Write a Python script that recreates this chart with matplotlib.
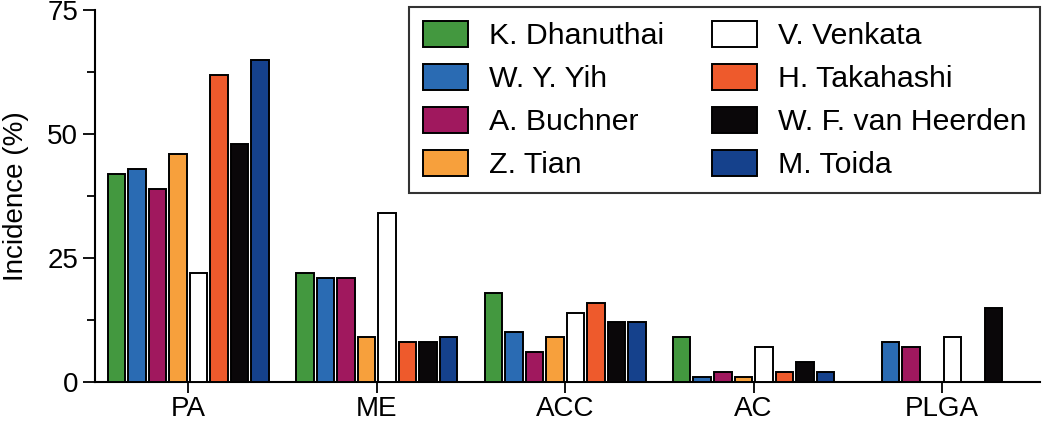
import matplotlib
matplotlib.use("Agg")
import matplotlib.pyplot as plt
import numpy as np
from matplotlib.ticker import MultipleLocator

plt.rcParams['font.family'] = ['Liberation Sans', 'DejaVu Sans']

categories = ["PA", "ME", "ACC", "AC", "PLGA"]
authors = ["K. Dhanuthai", "W. Y. Yih", "A. Buchner", "Z. Tian",
           "V. Venkata", "H. Takahashi", "W. F. van Heerden", "M. Toida"]
colors = ["#43983F", "#2A6BB3", "#A0185E", "#F7A03C",
          "#FFFFFF", "#EE5A2C", "#0A0709", "#15418C"]

k_dhanuthai = [42, 22, 18, 9, 0]
w_y_yih = [43, 21, 10, 1, 8]
a_buchner = [39, 21, 6, 2, 7]
z_tian = [46, 9, 9, 1, 0]
v_venkata = [22, 34, 14, 7, 9]
h_takahashi = [62, 8, 16, 2, 0]
w_f_van_heerden = [48, 8, 12, 4, 15]
m_toida = [65, 9, 12, 2, 0]

series = [k_dhanuthai, w_y_yih, a_buchner, z_tian,
          v_venkata, h_takahashi, w_f_van_heerden, m_toida]

fig = plt.figure(figsize=(10.5, 4.22), dpi=100)
ax = fig.add_axes([0.0905, 0.095, 0.9, 0.881])

x = np.arange(len(categories))
step = 0.109
width = 0.093
for i, (vals, name, col) in enumerate(zip(series, authors, colors)):
    offs = (i - 3.5) * step
    v = np.array(vals, dtype=float)
    mask = v > 0
    ax.bar(x[mask] + offs, v[mask], width=width, color=col,
           edgecolor="black", linewidth=1.4, label=name, zorder=3)

ax.set_xlim(-0.495, 4.52)
ax.set_ylim(0, 75)
ax.set_xticks(x)
ax.set_xticklabels(categories, fontsize=20)
ax.yaxis.set_major_locator(MultipleLocator(25))
ax.yaxis.set_minor_locator(MultipleLocator(12.5))
ax.tick_params(axis='y', which='major', labelsize=20, length=9, width=1.3, pad=3)
ax.tick_params(axis='y', which='minor', length=6, width=1.3)
ax.tick_params(axis='x', labelsize=20, length=8, width=1.3, pad=2)
ax.set_ylabel("Incidence (%)", fontsize=20, labelpad=13)
for s in ["top", "right"]:
    ax.spines[s].set_visible(False)
for s in ["left", "bottom"]:
    ax.spines[s].set_linewidth(1.5)

handles, labels = ax.get_legend_handles_labels()
leg = ax.legend(handles, labels, ncol=2, loc="upper left",
                bbox_to_anchor=(409 / 1050, 1 - 7 / 422), bbox_transform=fig.transFigure,
                borderaxespad=0, fontsize=21.75, frameon=True, fancybox=False,
                edgecolor="black", handlelength=1.49, handleheight=0.95,
                handletextpad=0.7, columnspacing=1.6, labelspacing=0.45,
                borderpad=0.45)
leg.get_frame().set_linewidth(1.5)

fig.savefig("out.png", dpi=100)
